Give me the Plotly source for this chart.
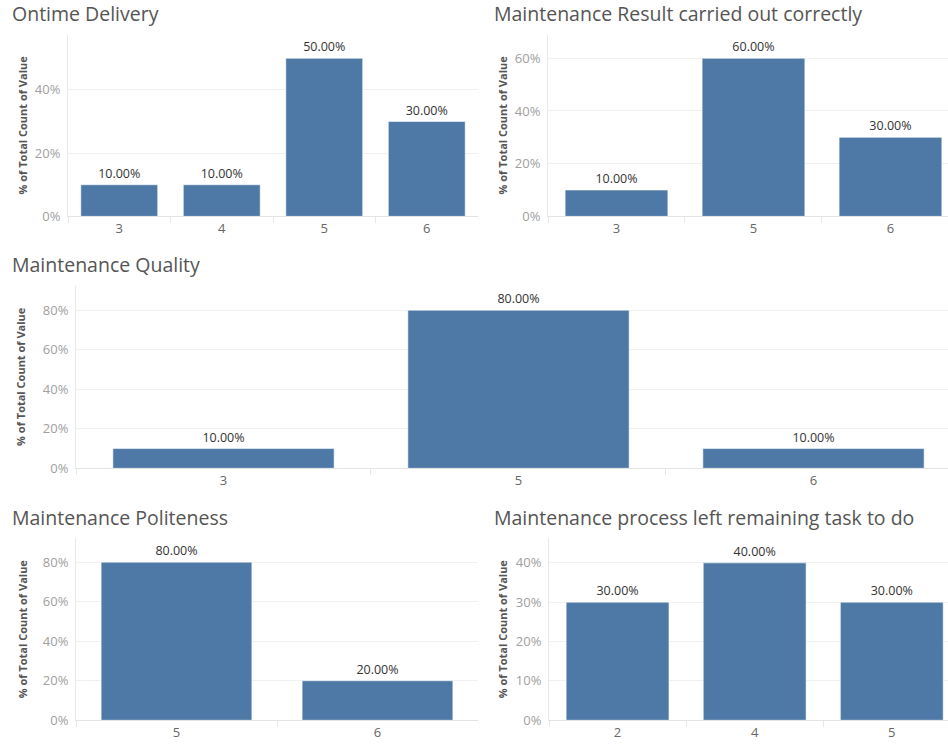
import plotly.graph_objects as go

W, H = 948, 750

# ---- data ----
titles = [
    "Ontime Delivery",
    "Maintenance Result carried out correctly",
    "Maintenance Quality",
    "Maintenance Politeness",
    "Maintenance process left remaining task to do",
]
cats_ontime = ["3", "4", "5", "6"]
vals_ontime = [10, 10, 50, 30]
cats_result = ["3", "5", "6"]
vals_result = [10, 60, 30]
cats_quality = ["3", "5", "6"]
vals_quality = [10, 80, 10]
cats_polite = ["5", "6"]
vals_polite = [80, 20]
cats_remaining = ["2", "4", "5"]
vals_remaining = [30, 40, 30]

# ---- layout geometry (pixels) ----
panels = [
    # cats, vals, x0, x1, y0, y1, xrange_end, yrange_max, dtick, title_x, title_y, ytitle_x
    (cats_ontime, vals_ontime, 68, 478, 35, 219, 3.5, 57.5, 20, 10, 14, 22),
    (cats_result, vals_result, 548, 948, 35, 219, 2.42, 69, 20, 492, 14, 502),
    (cats_quality, vals_quality, 76, 948, 289, 474, 2.456, 92.5, 20, 10, 268, 21),
    (cats_polite, vals_polite, 76, 478, 545, 729, 1.5, 92, 20, 10, 524, 22),
    (cats_remaining, vals_remaining, 549, 948, 545, 729, 2.41, 46.2, 10, 492, 524, 502),
]

BAR = "#4e79a7"
FONT = "Open Sans"

fig = go.Figure()
annotations = []
layout_axes = {}

for i, (cats, vals, x0, x1, y0, y1, xend, ymax, dt, tx, ty, ytx) in enumerate(panels):
    n = "" if i == 0 else str(i + 1)
    xa, ya = "x" + n, "y" + n
    fig.add_trace(go.Bar(
        x=cats, y=vals, xaxis=xa, yaxis=ya,
        marker=dict(color=BAR, line=dict(color="rgba(255,255,255,0.55)", width=1)),
        width=0.75,
        text=[f"{v:.2f}%" for v in vals],
        textposition="outside",
        textfont=dict(family=FONT, size=12.5, color="#333333"),
        cliponaxis=False,
        showlegend=False,
        hoverinfo="skip",
    ))
    layout_axes["xaxis" + n] = dict(
        domain=[x0 / W, x1 / W], anchor=ya, type="category",
        range=[-0.5, xend], showgrid=False, zeroline=False,
        showline=True, linecolor="#e3e3e3", linewidth=1,
        tickson="boundaries", ticks="outside", ticklen=6, tickcolor="#e8e8e8",
        tickfont=dict(family=FONT, size=13, color="#666666"),
        fixedrange=True,
    )
    layout_axes["yaxis" + n] = dict(
        domain=[1 - y1 / H, 1 - y0 / H], anchor=xa,
        range=[0, ymax], dtick=dt, ticksuffix="%",
        showgrid=True, gridcolor="#f0f0f0", gridwidth=1,
        zeroline=False, showline=True, linecolor="#e8e8e8", linewidth=1,
        ticks="", ticklabelstandoff=4,
        tickfont=dict(family=FONT, size=13, color="#a0a0a0"),
        fixedrange=True,
    )
    annotations.append(dict(
        text=titles[i], xref="paper", yref="paper",
        x=tx / W, y=1 - ty / H, xanchor="left", yanchor="middle",
        showarrow=False, font=dict(family=FONT, size=19.5, color="#555555"),
    ))
    annotations.append(dict(
        text="% of Total Count of Value", xref="paper", yref="paper",
        x=ytx / W, y=1 - ((y0 + y1) / 2) / H, xanchor="center", yanchor="middle",
        textangle=-90, showarrow=False,
        font=dict(family=FONT, size=11, color="#555555", weight="bold"),
    ))

fig.update_layout(
    width=W, height=H,
    margin=dict(l=0, r=0, t=0, b=0),
    paper_bgcolor="white", plot_bgcolor="white",
    annotations=annotations,
    bargap=0.25,
    **layout_axes,
)

fig.write_html("out.html")
